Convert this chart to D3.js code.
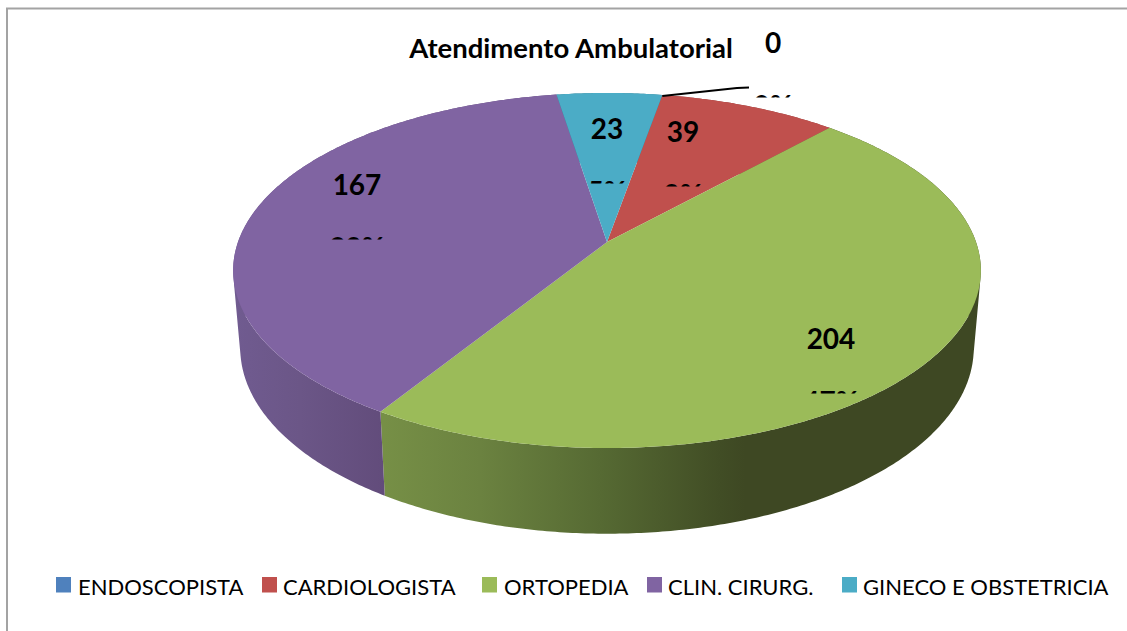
<!DOCTYPE html>
<html><head><meta charset="utf-8">
<script src="https://cdn.jsdelivr.net/npm/d3@7"></script>
<style>html,body{margin:0;padding:0;background:#fff}svg{display:block}text{font-family:Lato,"Open Sans",sans-serif;fill:#000}</style>
</head><body><svg id="c" width="1127" height="631"></svg>
<script>
const categories = ["ENDOSCOPISTA","CARDIOLOGISTA","ORTOPEDIA","CLIN. CIRURG.","GINECO E OBSTETRICIA"];
const values = [0,39,204,167,23];
const colors = ["#4F81BD","#C0504D","#9BBB59","#8064A2","#4BACC6"];
const titleText = "Atendimento Ambulatorial";
const labelAnchors = [[773,53],[683,142],[831,349],[357,195],[607,139]];
const legendSwatchX = [56,262,482,647,842];
const legendTextX = [78,283,504,668,863];
const wallStops = [
  {shade:"wall2", stops:[[385,"#768f46"],[480,"#6b8240"],[600,"#566a33"],[720,"#414d25"],[745,"#3e4823"],[1000,"#3e4823"]]},
  {shade:"wall3", stops:[[235,"#705b90"],[300,"#6b5687"],[385,"#624c7b"]]}
];

const svg = d3.select("#c");
const color = d3.scaleOrdinal(categories, colors);
const pie = d3.pie().sort(null).value(d=>d.value).startAngle(10*Math.PI/180).endAngle(370*Math.PI/180);
const rows = categories.map((name,i)=>({name,value:values[i]}));
const arcs = pie(rows);
const total = d3.sum(values);
const pct = d3.format(".0%");

// Perspective projection of the disc; separate projection for top and bottom faces
const cx = 607, persp = -0.1606;
const topFace = {R:369, a:134.1, b:242};
const botFace = {R:362, a:130, b:318};
function project(f, ang, r=1){
  const u = r*Math.sin(ang), v = -r*Math.cos(ang), w = 1+persp*v;
  return [cx+f.R*u/w, (f.a*v+f.b)/w];
}
function arcPts(f,a0,a1){
  const n = Math.max(2,Math.ceil((a1-a0)/0.01));
  return d3.range(n+1).map(i=>project(f,a0+(a1-a0)*i/n));
}

// chart frame
svg.append("path").attr("d","M7,631V8.5H1127").attr("fill","none").attr("stroke","#a3a3a3").attr("stroke-width",2);

const defs = svg.append("defs");
wallStops.forEach(g=>{
  const xs = d3.scaleLinear().domain(d3.extent(g.stops,s=>s[0])).range([0,1]);
  const lg = defs.append("linearGradient").attr("id",g.shade).attr("gradientUnits","userSpaceOnUse")
    .attr("x1",g.stops[0][0]).attr("x2",g.stops[g.stops.length-1][0]).attr("y1",0).attr("y2",0);
  g.stops.forEach(s=>lg.append("stop").attr("offset",xs(s[0])).attr("stop-color",s[1]));
});

// walls: consistently wound quads so the union is solid
function wallPath(d){
  const t = arcPts(topFace,d.startAngle,d.endAngle), b = arcPts(botFace,d.startAngle,d.endAngle);
  let p = "";
  for(let i=0;i<t.length-1;i++){
    let q=[t[i],t[i+1],b[i+1],b[i]];
    if(d3.polygonArea(q)<0) q=q.reverse();
    p+="M"+q.map(c=>c.join(",")).join("L")+"Z";
  }
  return p;
}
const wallFill = ["#3f5f88","#8a3a38","url(#wall2)","url(#wall3)","#367c8f"];
svg.append("g").selectAll("path").data(arcs).join("path")
  .attr("d",wallPath).attr("fill",(d,i)=>wallFill[i]);

// top faces
svg.append("g").selectAll("path").data(arcs).join("path")
  .attr("d",d=>{
    const pts = arcPts(topFace,d.startAngle,d.endAngle);
    return "M"+[project(topFace,0,0),...pts].map(c=>c.join(",")).join("L")+"Z";
  })
  .attr("fill",d=>color(d.data.name));

// leader line for the zero slice
const zeroPt = project(topFace,arcs[0].startAngle);
svg.append("path").attr("d",`M${zeroPt[0]},${zeroPt[1]+1}L737,88L749,87.5`).attr("fill","none").attr("stroke","#000").attr("stroke-width",2);

// title
svg.append("text").attr("x",571).attr("y",58).attr("text-anchor","middle")
  .attr("font-size",27.5).attr("font-weight",700).text(titleText);

// data labels: value, and a percentage cut off by its label box
const lab = svg.append("g").selectAll("g").data(arcs).join("g");
lab.append("clipPath").attr("id",(d,i)=>"lc"+i).append("rect")
  .attr("x",(d,i)=>labelAnchors[i][0]-60).attr("width",120)
  .attr("y",(d,i)=>labelAnchors[i][1]+30).attr("height",(d,i)=>14.5);
lab.append("text").attr("x",(d,i)=>labelAnchors[i][0]).attr("y",(d,i)=>labelAnchors[i][1])
  .attr("text-anchor","middle").attr("font-size",28).attr("font-weight",700).text(d=>d.value);
lab.append("text").attr("x",(d,i)=>labelAnchors[i][0]).attr("y",(d,i)=>labelAnchors[i][1]+63)
  .attr("clip-path",(d,i)=>`url(#lc${i})`)
  .attr("text-anchor","middle").attr("font-size",28).attr("font-weight",700).text(d=>pct(d.value/total));

// legend
const leg = svg.append("g").selectAll("g").data(categories).join("g");
leg.append("rect").attr("x",(d,i)=>legendSwatchX[i]).attr("y",577).attr("width",15).attr("height",15.5).attr("fill",d=>color(d));
leg.append("text").attr("x",(d,i)=>legendTextX[i]).attr("y",595).attr("font-size",22).text(d=>d);
</script></body></html>
